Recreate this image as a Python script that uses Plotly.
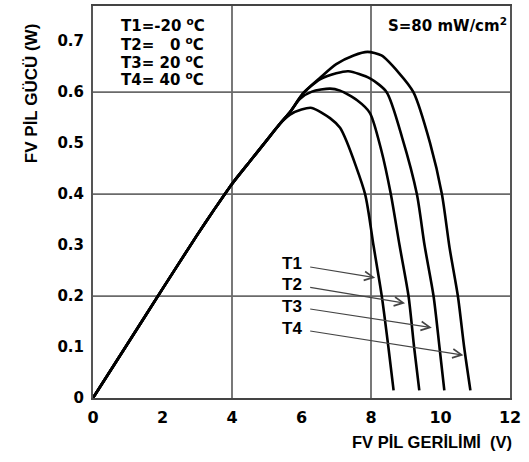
import plotly.graph_objects as go

# ---- data ----
V_RISE = [0, 1, 2, 3, 3.5, 4.0, 4.5, 4.9, 5.38]
P_RISE = [0, 0.107, 0.214, 0.320, 0.371, 0.420, 0.463, 0.497, 0.538]

V_T1 = V_RISE + [5.67, 6.0, 6.3, 6.82, 7.11, 7.30, 7.83, 8.07, 8.31, 8.50, 8.65]
P_T1 = P_RISE + [0.556, 0.566, 0.569, 0.549, 0.530, 0.503, 0.40, 0.30, 0.20, 0.10, 0.015]

V_T2 = V_RISE + [5.67, 5.96, 6.3, 6.82, 7.11, 7.6, 7.97, 8.3, 8.57, 8.82, 9.08, 9.24, 9.39]
P_T2 = P_RISE + [0.561, 0.587, 0.601, 0.607, 0.603, 0.584, 0.559, 0.485, 0.40, 0.30, 0.20, 0.10, 0.015]

V_T3 = V_RISE + [5.67, 6.05, 6.53, 7.0, 7.35, 7.97, 8.45, 8.9, 9.32, 9.54, 9.80, 9.97, 10.11]
P_T3 = P_RISE + [0.561, 0.598, 0.625, 0.637, 0.641, 0.627, 0.60, 0.51, 0.40, 0.30, 0.20, 0.10, 0.015]

V_T4 = V_RISE + [5.67, 6.05, 6.53, 7.0, 7.5, 7.9, 8.3, 8.8, 9.22, 9.7, 10.04, 10.26, 10.5, 10.68, 10.86]
P_T4 = P_RISE + [0.561, 0.598, 0.628, 0.655, 0.672, 0.679, 0.672, 0.638, 0.60, 0.50, 0.40, 0.295, 0.20, 0.10, 0.015]

CURVE_NAMES = ["T1", "T2", "T3", "T4"]
CURVES_V = [V_T1, V_T2, V_T3, V_T4]
CURVES_P = [P_T1, P_T2, P_T3, P_T4]

X_TICKS = [0, 2, 4, 6, 8, 10, 12]
Y_TICKS = [0, 0.1, 0.2, 0.3, 0.4, 0.5, 0.6, 0.7]
Y_TICK_TEXT = ["0", "0.1", "0.2", "0.3", "0.4", "0.5", "0.6", "0.7"]
GRID_X = [4, 8]
GRID_Y = [0.2, 0.4, 0.6]

# arrow labels: label position (V, P) and arrow tip (V, P)
ARROW_LABEL_V = [5.72, 5.72, 5.72, 5.72]
ARROW_LABEL_P = [0.263, 0.223, 0.180, 0.137]
ARROW_TIP_V = [8.12, 8.98, 9.75, 10.66]
ARROW_TIP_P = [0.236, 0.186, 0.138, 0.084]

LEGEND_LINES = ["T1=-20 <sup>o</sup>C", "T2=\u00a0\u00a0 0 <sup>o</sup>C",
                "T3= 20 <sup>o</sup>C", "T4= 40 <sup>o</sup>C"]
LEGEND_P = [0.732, 0.695, 0.660, 0.625]
IRRADIANCE = "S=80 mW/cm<sup>2</sup>"
X_TITLE = "FV PİL GERİLİMİ\u00a0 (V)"
Y_TITLE = "FV PİL GÜCÜ (W)"

FONT = "Liberation Sans"
WIDE = "DejaVu Sans"

fig = go.Figure()
for name, v, p in zip(CURVE_NAMES, CURVES_V, CURVES_P):
    fig.add_trace(go.Scatter(x=v, y=p, mode="lines", name=name,
                             line=dict(color="black", width=2.6, shape="spline", smoothing=0.7),
                             showlegend=False, hoverinfo="skip"))

shapes = []
for gx in GRID_X:
    shapes.append(dict(type="line", xref="x", yref="paper", x0=gx, x1=gx, y0=0, y1=1,
                       line=dict(color="#6a6a6a", width=1.8), layer="below"))
for gy in GRID_Y:
    shapes.append(dict(type="line", xref="paper", yref="y", x0=0, x1=1, y0=gy, y1=gy,
                       line=dict(color="#6a6a6a", width=1.8), layer="below"))

annotations = []
for name, lv, lp, tv, tp in zip(CURVE_NAMES, ARROW_LABEL_V, ARROW_LABEL_P, ARROW_TIP_V, ARROW_TIP_P):
    annotations.append(dict(x=tv, y=tp, xref="x", yref="y", ax=lv, ay=lp, axref="x", ayref="y",
                            text="<b>%s</b>" % name, showarrow=True, arrowhead=5, arrowsize=1.6,
                            arrowwidth=1.1, arrowcolor="#444444", startstandoff=7,
                            font=dict(family=FONT, size=17, color="black")))

for txt, yp in zip(LEGEND_LINES, LEGEND_P):
    annotations.append(dict(x=2.01, y=yp, xref="x", yref="y",
                            xanchor="center", yanchor="middle", showarrow=False,
                            text="<b>%s</b>" % txt,
                            font=dict(family=WIDE, size=15, color="black")))

annotations.append(dict(x=10.2, y=0.731, xref="x", yref="y",
                        xanchor="center", yanchor="middle", showarrow=False,
                        text="<b>%s</b>" % IRRADIANCE,
                        font=dict(family=WIDE, size=15, color="black")))
annotations.append(dict(x=(432 - 93.3) / 416.7, y=(398.3 - 443) / 394.3, xref="paper", yref="paper",
                        xanchor="center", yanchor="middle", showarrow=False,
                        text="<b>%s</b>" % X_TITLE,
                        font=dict(family=FONT, size=16.5, color="black")))
annotations.append(dict(x=(32 - 93.3) / 416.7, y=(398.3 - 92) / 394.3, xref="paper", yref="paper",
                        xanchor="center", yanchor="middle", showarrow=False, textangle=-90,
                        text="<b>%s</b>" % Y_TITLE,
                        font=dict(family=FONT, size=17, color="black")))

fig.update_layout(
    width=529, height=462,
    margin=dict(l=93, r=19, t=4, b=64),
    paper_bgcolor="white", plot_bgcolor="white",
    shapes=shapes, annotations=annotations,
    xaxis=dict(range=[0, 12], tickvals=X_TICKS, ticktext=[str(t) for t in X_TICKS],
               showgrid=False, zeroline=False, showline=True, mirror=True,
               linecolor="#444444", linewidth=2, ticks="", ticklabelstandoff=4,
               tickfont=dict(family=WIDE, size=16, color="black", weight="bold")),
    yaxis=dict(range=[0, 0.769], tickvals=Y_TICKS, ticktext=Y_TICK_TEXT,
               showgrid=False, zeroline=False, showline=True, mirror=True,
               linecolor="#555555", linewidth=2, ticks="", ticklabelstandoff=4,
               tickfont=dict(family=WIDE, size=15, color="black", weight="bold")),
)

fig.write_html("out.html", config={"displayModeBar": False},
               post_script="document.body.style.margin='0';document.body.style.padding='0';document.body.style.overflow='hidden';")
